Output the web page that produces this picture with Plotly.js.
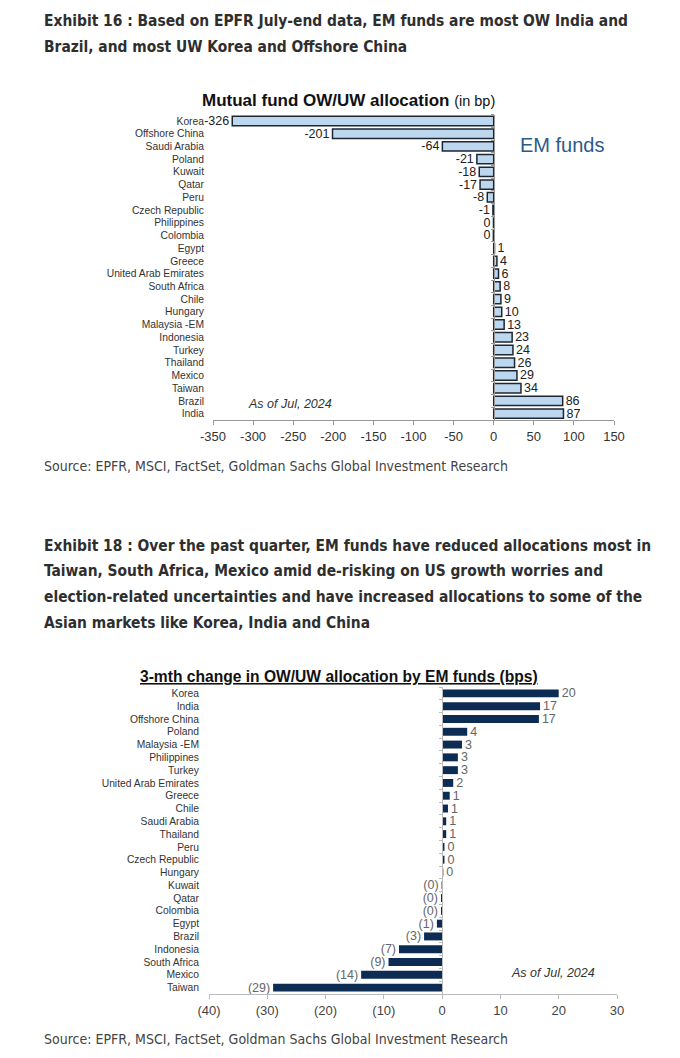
<!DOCTYPE html>
<html>
<head>
<meta charset="utf-8">
<script src="https://cdn.plot.ly/plotly-3.0.1.min.js"></script>
<style>
html,body{margin:0;padding:0;background:#fff;}
#chart{width:680px;height:1058px;}
</style>
</head>
<body>
<div id="chart"></div>
<script>
// ---------- Data: Exhibit 16 ----------
const cats1 = ["Korea","Offshore China","Saudi Arabia","Poland","Kuwait","Qatar","Peru","Czech Republic","Philippines","Colombia","Egypt","Greece","United Arab Emirates","South Africa","Chile","Hungary","Malaysia -EM","Indonesia","Turkey","Thailand","Mexico","Taiwan","Brazil","India"];
const vals1 = [-326,-201,-64,-21,-18,-17,-8,-1,-0.3,-0.4,1,4,6,8,9,10,13,23,24,26,29,34,86,87];
const ticks1 = [-350,-300,-250,-200,-150,-100,-50,0,50,100,150];
const tickText1 = ["-350","-300","-250","-200","-150","-100","-50","0","50","100","150"];

// ---------- Data: Exhibit 18 ----------
const cats2 = ["Korea","India","Offshore China","Poland","Malaysia -EM","Philippines","Turkey","United Arab Emirates","Greece","Chile","Saudi Arabia","Thailand","Peru","Czech Republic","Hungary","Kuwait","Qatar","Colombia","Egypt","Brazil","Indonesia","South Africa","Mexico","Taiwan"];
const vals2 = [20.0,16.8,16.6,4.3,3.4,2.7,2.7,1.9,1.3,1.0,0.7,0.7,0.4,0.4,0.2,-0.1,-0.2,-0.2,-0.9,-3.1,-7.4,-9.2,-13.9,-29.0];
const ticks2 = [-40,-30,-20,-10,0,10,20,30];
const tickText2 = ["(40)","(30)","(20)","(10)","0","10","20","30"];

const text1 = vals1.map(v => { const r = Math.round(v); return r === 0 ? "0" : String(r); });
const text2 = vals2.map(v => { const r = Math.round(v); return v < 0 ? "(" + Math.abs(r) + ")" : String(Math.abs(r)); });

const W = 680, H = 1058;
const px = x => x / W;
const py = y => 1 - y / H;

const ARIAL = "Arial, 'Liberation Sans', sans-serif";
const NARROW = "'DejaVu Sans Condensed', 'Liberation Sans Narrow', 'DejaVu Sans', sans-serif";

const traces = [
  {
    type: "bar", orientation: "h", x: vals1, y: cats1, xaxis: "x", yaxis: "y",
    width: 0.74,
    marker: {color: "#bdd7ee", line: {color: "#1c2733", width: 1.5}},
    text: text1, textposition: "outside", cliponaxis: false, constraintext: "none",
    textfont: {family: ARIAL, size: 12.5, color: "#222"},
    hoverinfo: "x+y"
  },
  {
    type: "scatter", mode: "none", x: vals1, y: cats1, xaxis: "x", yaxis: "y2",
    hoverinfo: "skip", showlegend: false
  },
  {
    type: "bar", orientation: "h", x: vals2, y: cats2, xaxis: "x2", yaxis: "y3",
    width: 0.62,
    marker: {color: "#0c2c54"},
    text: text2, textposition: "outside", cliponaxis: false, constraintext: "none",
    textfont: {family: ARIAL, size: 12.5, color: "#666"},
    hoverinfo: "x+y"
  },
  {
    type: "scatter", mode: "none", x: vals2, y: cats2, xaxis: "x2", yaxis: "y4",
    hoverinfo: "skip", showlegend: false
  }
];

const n1 = cats1.length, n2 = cats2.length;

const layout = {
  width: W, height: H,
  margin: {l: 0, r: 0, t: 0, b: 0},
  paper_bgcolor: "#fff", plot_bgcolor: "rgba(0,0,0,0)",
  showlegend: false,
  font: {family: ARIAL, color: "#333"},
  xaxis: {
    domain: [px(213), px(614)], anchor: "y", range: [-350, 150],
    tickmode: "array", tickvals: ticks1, ticktext: tickText1, ticks: "outside", ticklen: 4, tickcolor: "#999",
    showline: true, linecolor: "#999", linewidth: 1,
    showgrid: false, zeroline: false,
    tickfont: {family: ARIAL, size: 13, color: "#333"}
  },
  yaxis: {
    domain: [py(420), py(114.6)], anchor: "x", type: "category",
    categoryarray: cats1, categoryorder: "array", range: [n1 - 0.5, -0.5],
    tickmode: "array", tickvals: cats1,
    showline: false, ticks: "", showgrid: false, zeroline: false,
    ticklabelstandoff: 8,
    tickfont: {family: ARIAL, size: 10.3, color: "#333"}
  },
  yaxis2: {
    overlaying: "y", anchor: "free", position: px(494), side: "left",
    type: "category", categoryarray: cats1, categoryorder: "array", range: [n1 - 0.5, -0.5],
    tickmode: "array", tickvals: cats1,
    showline: true, linecolor: "#999", linewidth: 1,
    ticks: "outside", ticklen: 3, tickcolor: "#999", tickson: "boundaries",
    showticklabels: false, showgrid: false, zeroline: false
  },
  xaxis2: {
    domain: [px(209), px(617)], anchor: "y3", range: [-40, 30],
    tickmode: "array", tickvals: ticks2, ticktext: tickText2, ticks: "outside", ticklen: 4, tickcolor: "#bbb",
    showline: true, linecolor: "#bbb", linewidth: 1,
    showgrid: false, zeroline: false,
    tickfont: {family: ARIAL, size: 13, color: "#444"}
  },
  yaxis3: {
    domain: [py(994), py(687)], anchor: "x2", type: "category",
    categoryarray: cats2, categoryorder: "array", range: [n2 - 0.5, -0.5],
    tickmode: "array", tickvals: cats2,
    showline: false, ticks: "", showgrid: false, zeroline: false,
    ticklabelstandoff: 9,
    tickfont: {family: ARIAL, size: 10.3, color: "#333"}
  },
  yaxis4: {
    overlaying: "y3", anchor: "free", position: px(442.3), side: "left",
    type: "category", categoryarray: cats2, categoryorder: "array", range: [n2 - 0.5, -0.5],
    tickmode: "array", tickvals: cats2,
    showline: true, linecolor: "#bbb", linewidth: 1,
    ticks: "outside", ticklen: 3, tickcolor: "#bbb", tickson: "boundaries",
    showticklabels: false, showgrid: false, zeroline: false
  },
  annotations: []
};

function note(text, x, y, opts) {
  layout.annotations.push(Object.assign({
    text: text, x: px(x), y: py(y), xref: "paper", yref: "paper",
    showarrow: false, xanchor: "left", yanchor: "middle",
    font: {family: NARROW, size: 15.4, color: "#2e2e2e"}
  }, opts || {}));
}

// Exhibit 16 heading
note("<b>Exhibit 16 : Based on EPFR July-end data, EM funds are most OW India and</b>", 42, 21);
note("<b>Brazil, and most UW Korea and Offshore China</b>", 42, 47);
// Chart 1 title
note("<b>Mutual fund OW/UW allocation</b> <span style='font-size:14.5px'>(in bp)</span>", 348, 100,
  {xanchor: "center", font: {family: ARIAL, size: 17, color: "#111"}});
note("EM funds", 562, 145, {xanchor: "center", font: {family: ARIAL, size: 20, color: "#2b5b8a"}});
note("<i>As of Jul, 2024</i>", 246, 404, {font: {family: ARIAL, size: 12.5, color: "#333"}});
note("Source: EPFR, MSCI, FactSet, Goldman Sachs Global Investment Research", 42, 466,
  {font: {family: NARROW, size: 14, color: "#444"}});

// Exhibit 18 heading
note("<b>Exhibit 18 : Over the past quarter, EM funds have reduced allocations most in</b>", 42, 546);
note("<b>Taiwan, South Africa, Mexico amid de-risking on US growth worries and</b>", 42, 571);
note("<b>election-related uncertainties and have increased allocations to some of the</b>", 42, 597);
note("<b>Asian markets like Korea, India and China</b>", 42, 623);
// Chart 2 title
note("<b><u>3-mth change in OW/UW allocation by EM funds (bps)</u></b>", 339, 676,
  {xanchor: "center", font: {family: ARIAL, size: 15.6, color: "#111"}});
note("<i>As of Jul, 2024</i>", 509, 973, {font: {family: ARIAL, size: 12.5, color: "#333"}});
note("Source: EPFR, MSCI, FactSet, Goldman Sachs Global Investment Research", 42, 1039,
  {font: {family: NARROW, size: 14, color: "#444"}});

Plotly.newPlot("chart", traces, layout, {displayModeBar: false, staticPlot: true});
</script>
</body>
</html>
